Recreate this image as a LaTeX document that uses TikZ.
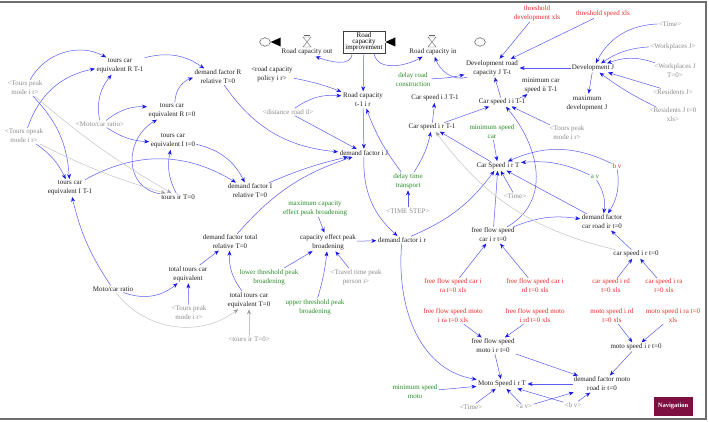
\documentclass[tikz,border=0pt]{standalone}
\usepackage{fontspec}
\setmainfont{Liberation Serif}
\usetikzlibrary{arrows.meta,shapes.symbols}
\definecolor{lkblue}{RGB}{90,90,245}
\definecolor{tipblue}{RGB}{20,20,230}
\definecolor{shgray}{RGB}{140,140,140}
\definecolor{lkgray}{RGB}{195,195,195}
\definecolor{vred}{RGB}{240,40,40}
\definecolor{vgreen}{RGB}{40,140,40}
\definecolor{navcol}{RGB}{125,15,65}
\definecolor{framecol}{RGB}{110,110,110}
\tikzset{
  base/.style={align=center, inner sep=1pt, font=\fontsize{7}{9}\selectfont},
  v/.style={base, text=black!88},
  sh/.style={base, text=shgray},
  rd/.style={base, text=vred},
  gr/.style={base, text=vgreen},
  lk/.style={draw=lkblue, line width=0.5pt, -{Stealth[length=5pt,width=4pt,color=tipblue]}, shorten >=0.5pt},
  glk/.style={draw=lkgray, line width=0.5pt, -{Stealth[length=5pt,width=4pt,color=lkgray!80!black]}, shorten >=0.5pt},
  stockbox/.style={draw=black!75, fill=white, line width=0.6pt, minimum width=42pt, minimum height=22pt, inner sep=1pt, align=center, font=\fontsize{7}{6.3}\selectfont},
  pipe/.style={draw=black!80, line width=0.5pt, double=white, double distance=1.6pt},
  cloudy/.style={cloud, cloud puffs=8, draw=black!70, line width=0.4pt, minimum width=11pt, minimum height=9pt, inner sep=0pt},
}
\begin{document}
\begin{tikzpicture}[x=1pt,y=1pt]
\useasboundingbox (0,0) rectangle (709,-422);
% frame
\draw[framecol, line width=1.4pt] (0,-2) -- (706,-2) -- (706,-419) -- (0,-419);

% ---------- stock and flows ----------
\node[stockbox] (stk) at (364,-42) {Road\\capacity\\improvement};
\node[cloudy] (cloudL) at (265,-42) {};
\node[cloudy] (cloudR) at (480,-42) {};
\draw[pipe] (stk.west) -- (cloudL.east);
\draw[pipe] (cloudR.west) -- (stk.east);
\fill[black] (cloudL.east) -- ++(10,4.5) -- ++(0,-9) -- cycle;
\fill[black] (stk.east) -- ++(10,4.5) -- ++(0,-9) -- cycle;
\coordinate (valL) at (307,-42);
\coordinate (valR) at (432,-42);
\foreach \c in {valL,valR}{
  \draw[black!60, fill=white, line width=0.4pt] ([shift={(-4,5)}]\c) -- ([shift={(4,5)}]\c) -- ([shift={(-4,-5)}]\c) -- ([shift={(4,-5)}]\c) -- cycle;
  \draw[black!60, line width=0.4pt] ([shift={(-3,6.5)}]\c) -- ([shift={(3,6.5)}]\c);
}
\node[v] (rco) at (307,-52) {Road capacity out};
\node[v] (rci) at (433,-52) {Road capacity in};

% ---------- nodes ----------
\node[v] (tRT1) at (120,-66) {tours car\\equivalent R T-1};
\node[sh] (tpR) at (25,-88) {<Tours peak\\mode i r>};
\node[sh] (toR) at (24,-136) {<Tours opeak\\mode i r>};
\node[sh] (mcs) at (100,-124) {<Moto/car ratio>};
\node[v] (tRt0) at (172,-111) {tours car\\equivalent R t=0};
\node[v] (tIt0) at (173,-141) {tours car\\equivalent I t=0};
\node[v] (dfR) at (218,-77) {demand factor R\\relative T=0};
\node[v] (rcp) at (272,-74) {<road capacity\\policy i r>};
\node[sh] (dist) at (288,-112) {<distance road il>};
\node[v] (rct) at (363,-100) {Road capacity\\t-1 i r};
\node[v] (drc) at (492,-68) {Development road\\capacity J T-t};
\node[gr] (drd) at (413,-80) {delay road\\construction};
\node[v] (csJ) at (435,-98) {Car speed i J T-1};
\node[v] (csi) at (502,-102) {Car speed i i T-1};
\node[v] (csr1) at (432,-127) {Car speed i r T-1};
\node[gr] (msc) at (492,-132) {minimum speed\\car};
\node[v] (mcsi) at (541,-85) {minimum car\\speed ii T-1};
\node[rd] (thd) at (537,-13) {threshold\\development xls};
\node[rd] (ths) at (603,-14) {threshold speed xls};
\node[sh] (time1) at (670,-24) {<Time>};
\node[sh] (wpJ) at (673,-47) {<Workplaces J>};
\node[sh] (wpJ0) at (675,-71) {<Workplaces J\\T=0>};
\node[sh] (resJ) at (673,-92) {<Residents J>};
\node[sh] (resJ0) at (673,-115) {<Residents J t=0\\xls>};
\node[v] (devJ) at (593,-68) {Development J};
\node[v] (maxd) at (587,-103) {maximum\\development J};
\node[sh] (tpR2) at (567,-133) {<Tours peak\\mode i r>};
\node[v] (tIT1) at (70,-188) {tours car\\equivalent I T-1};
\node[v] (tir) at (178,-197) {tours ir T=0};
\node[v] (dfI) at (250,-191) {demand factor I\\relative T=0};
\node[v] (dfJ) at (364,-153) {demand factor i J};
\node[gr] (dtt) at (408,-181) {delay time\\transport};
\node[sh] (tstep) at (408,-211) {<TIME STEP>};
\node[v] (CST) at (498,-166) {Car Speed i r T};
\node[sh] (time2) at (515,-196) {<Time>};
\node[v] (dfir) at (402,-240) {demand factor i r};
\node[v] (ffc) at (493,-235) {free flow speed\\car i r t=0};
\node[gr] (av) at (595,-177) {a v};
\node[rd] (bv) at (617,-166) {b v};
\node[v] (dfc) at (602,-222) {demand factor\\car road ir t=0};
\node[v] (csr0) at (636,-254) {car speed i r t=0};
\node[gr] (mcap) at (315,-208) {maximum capacity\\effect peak broadening};
\node[v] (cepb) at (328,-242) {capacity effect peak\\broadening};
\node[v] (dft) at (230,-242) {demand factor total\\relative T=0};
\node[gr] (ltp) at (269,-277) {lower threshold peak\\broadening};
\node[sh] (ttp) at (356,-277) {<Travel time peak\\person i>};
\node[v] (ttc) at (188,-274) {total tours car\\equivalent};
\node[v] (mcr) at (113,-289) {Moto/car ratio};
\node[sh] (tpR3) at (189,-313) {<Tours peak\\mode i r>};
\node[v] (ttc0) at (249,-300) {total tours car\\equivalent T=0};
\node[gr] (utp) at (315,-307) {upper threshold peak\\broadening};
\node[sh] (tir0) at (249,-339) {<tours ir T=0>};
\node[rd] (ffcra) at (453,-286) {free flow speed car i\\ra t=0 xls};
\node[rd] (ffcrd) at (535,-286) {free flow speed car i\\rd t=0 xls};
\node[rd] (csrd) at (611,-286) {car speed i rd\\t=0 xls};
\node[rd] (csra) at (664,-286) {car speed i ra\\t=0 xls};
\node[rd] (ffmra) at (453,-316) {free flow speed moto\\i ra t=0 xls};
\node[rd] (ffmrd) at (535,-316) {free flow speed moto\\i rd t=0 xls};
\node[rd] (msrd) at (612,-316) {moto speed i rd\\t=0 xls};
\node[rd] (msra) at (673,-316) {moto speed i ra t=0\\xls};
\node[v] (ffm) at (493,-346) {free flow speed\\moto i r t=0};
\node[v] (msr0) at (636,-347) {moto speed i r t=0};
\node[v] (dfm) at (602,-384) {demand factor moto\\road ir t=0};
\node[v] (MST) at (502,-384) {Moto Speed i r T};
\node[gr] (msm) at (415,-392) {minimum speed\\moto};
\node[sh] (time3) at (471,-407) {<Time>};
\node[sh] (avs) at (524,-407) {<a v>};
\node[sh] (bvs) at (573,-405) {<b v>};
\node[fill=navcol, text=white, font=\bfseries\fontsize{6.5}{8}\selectfont, minimum width=39pt, minimum height=19pt, inner sep=1pt] (nav) at (673,-406) {Navigation};

% ---------- links ----------
\draw[lk] (tpR) to[bend left=45] (tRT1);
\draw[lk] (toR) to[bend left=30] (tRT1);
\draw[lk] (mcs) to[bend left=25] (tRT1);
\draw[lk] (mcs) to[bend left=20] (tRt0);
\draw[lk] (mcs) to[bend right=15] (tIt0);
\draw[lk] (tRT1) to[bend left=25] (dfR);
\draw[lk] (tRt0) to[bend left=35] (dfR);
\draw[lk] (tir) to[out=170,in=210,looseness=1.3] (tRt0);
\draw[lk] (tir) to[bend left=20] (tIt0);
\draw[lk] (tIt0) to[bend left=25] (dfI);
\draw[lk] (tIT1) to[bend left=30] (dfI);
\draw[lk] (tpR) to[bend left=20] (tIT1);
\draw[lk] (toR) to[bend left=15] (tIT1);
\draw[lk] (mcr) to[bend left=10] (tIT1);
\draw[lk] (mcr) to[bend right=30] (ttc);
\draw[lk] (tpR3) -- (ttc);
\draw[lk] (ttc) -- (dft);
\draw[lk] (ttc0) to[bend left=20] (dft);
\draw[lk] (dft) to[bend left=15] (dfJ);
\draw[lk] (dfI) to[bend left=5] (dfJ);
\draw[lk] (dfR) to[bend right=25] (dfJ);
\draw[lk] (dist) -- (dfJ);
\draw[lk] (dist) to[bend left=20] (rct);
\draw[lk] (rcp) to[bend left=5] (rct);
\draw[lk] ([xshift=-12pt]stk.south) to[out=-90,in=-20] ([xshift=8pt]rco.south);
\draw[lk] ([xshift=10pt]stk.south) to[out=-80,in=-150] ([xshift=-10pt]rci.south);
\draw[lk] (stk) -- (rct);
\draw[lk] (rct) -- (dfJ);
\draw[lk] (drc) to[out=200,in=-70] (rci);
\draw[lk] (drd) to[bend right=5] (drc);
\draw[lk] (csi) -- (drc);
\draw[lk] (thd) -- (drc);
\draw[lk] (ths) -- (drc);
\draw[lk] (devJ) -- (drc);
\draw[lk] (csi) to[bend right=10] (mcsi);
\draw[lk] (csr1) -- (csJ);
\draw[lk] (csr1) -- (csi);
\draw[lk] (dtt) to[bend left=8] (rct);
\draw[lk] (dtt) to[bend right=10] (csr1);
\draw[lk] (CST) -- (csr1);
\draw[lk] (msc) -- (CST);
\draw[lk] (tpR2) -- (csi);
\draw[lk] (ffc) to[out=30,in=-50,looseness=1.1] (csi);
\draw[lk] (dfir) to[bend right=15] (CST);
\draw[lk] (ffc) -- (CST);
\draw[lk] (time2) -- (CST);
\draw[lk] (dfc) -- (CST);
\draw[lk] (ffc) to[bend left=15] (dfc);
\draw[lk] (av) to[bend right=15] (CST);
\draw[lk] (bv) to[bend right=25] (CST);
\draw[lk] (av) to[bend left=20] (dfc);
\draw[lk] (bv) to[bend left=20] (dfc);
\draw[lk] (csr0) -- (dfc);
\draw[lk] (csrd) -- (csr0);
\draw[lk] (csra) -- (csr0);
\draw[lk] (ffcra) -- (ffc);
\draw[lk] (ffcrd) -- (ffc);
\draw[lk] (dfJ) to[bend right=25] (dfir);
\draw[lk] (cepb) -- (dfir);
\draw[lk] (tstep) -- (dtt);
\draw[lk] (mcap) -- (cepb);
\draw[lk] (ltp) -- (cepb);
\draw[lk] (utp) to[bend right=5] (cepb);
\draw[lk] (ttp) -- (cepb);
\draw[lk] (dfir) to[out=-95,in=170] (MST);
\draw[lk] (msm) -- (MST);
\draw[lk] (time3) -- (MST);
\draw[lk] (avs) -- (MST);
\draw[lk] (bvs) -- (MST);
\draw[lk] (avs) -- (dfm);
\draw[lk] (bvs) -- (dfm);
\draw[lk] (dfm) -- (MST);
\draw[lk] (ffm) -- (MST);
\draw[lk] (ffm) -- (dfm);
\draw[lk] (msr0) -- (dfm);
\draw[lk] (msrd) -- (msr0);
\draw[lk] (msra) -- (msr0);
\draw[lk] (ffmra) -- (ffm);
\draw[lk] (ffmrd) -- (ffm);
\draw[lk] (time1) to[bend right=30] (devJ);
\draw[lk] (wpJ) to[bend right=15] (devJ);
\draw[lk] (wpJ0) to[bend right=20] (devJ);
\draw[lk] (resJ) -- (devJ);
\draw[lk] (resJ0) to[bend left=5] (devJ);
\draw[lk] (devJ) -- (maxd);
% gray links
\draw[glk] (tpR) to[bend right=5] (tir);
\draw[glk] (toR) to[bend right=5] (tir);
\draw[glk] (tir0) -- (ttc0);
\draw[glk] (mcr) to[bend right=45] (ttc0);
\draw[glk] (csr0) to[bend left=20] (csr1);
\end{tikzpicture}
\end{document}
